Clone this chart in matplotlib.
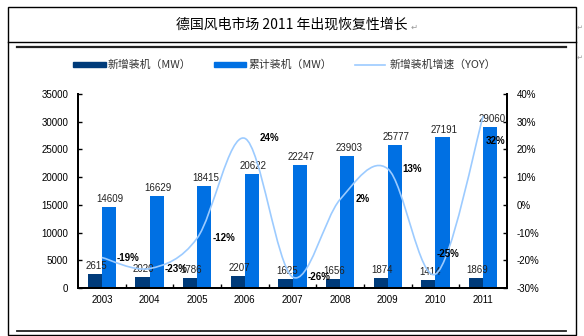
import matplotlib.pyplot as plt
from matplotlib.path import Path
from matplotlib.patches import PathPatch, Rectangle
from matplotlib.lines import Line2D

plt.rcParams['font.family'] = ['Liberation Sans', 'Noto Sans CJK SC', 'DejaVu Sans']

# data
years = ['2003', '2004', '2005', '2006', '2007', '2008', '2009', '2010', '2011']
new_mw = [2615, 2020, 1786, 2207, 1625, 1656, 1874, 1414, 1869]
total_mw = [14609, 16629, 18415, 20622, 22247, 23903, 25777, 27191, 29060]
yoy_pct = [-19, -23, -12, 24, -26, 2, 13, -25, 32]

left_ticks = [0, 5000, 10000, 15000, 20000, 25000, 30000, 35000]
right_ticks = [-30, -20, -10, 0, 10, 20, 30, 40]

title = '德国风电市场 2011 年出现恢复性增长'
legend_labels = ['新增装机（MW）', '累计装机（MW）', '新增装机增速（YOY）']

# label placement (pixels from the point)
pct_offsets = [(15, 0)] * 7 + [(1, 20), (3, -25)]

dark = '#003B7A'
light = '#0070E3'
line_col = '#9CCBFF'
W, H = 584, 336


def fx(px):
    return px / W


def fy(py):
    return 1 - py / H


fig = plt.figure(figsize=(5.84, 3.36), dpi=100)

# word table frame
fig.patches.append(Rectangle((fx(8), fy(335)), fx(568), 328 / H, transform=fig.transFigure,
                             fill=False, edgecolor='black', linewidth=1.0))
fig.lines.append(Line2D([fx(8), fx(576)], [fy(42), fy(42)], transform=fig.transFigure,
                        color='black', linewidth=1.0))
fig.lines.append(Line2D([fx(17), fx(566)], [fy(47), fy(47)], transform=fig.transFigure,
                        color='#222222', linewidth=1.6))
fig.lines.append(Line2D([fx(17), fx(566)], [fy(331), fy(331)], transform=fig.transFigure,
                        color='#222222', linewidth=1.3))
fig.text(fx(292), fy(25), title, ha='center', va='center', fontsize=10,
         family=['Noto Sans CJK SC', 'DejaVu Sans'])
fig.text(fx(411), fy(27), '↵', ha='left', va='center', fontsize=6, color='#999999',
         family='DejaVu Sans')
for py in (28, 58):
    fig.text(fx(577), fy(py), '↵', ha='left', va='center', fontsize=5, color='#999999',
             family='DejaVu Sans')

# axes
ax = fig.add_axes([fx(78), fy(288), fx(429), 194 / H])
ax2 = ax.twinx()

x = list(range(len(years)))
bw = 0.3
ax.bar([i - bw / 2 for i in x], new_mw, width=bw, color=dark, zorder=2)
ax.bar([i + bw / 2 for i in x], total_mw, width=bw, color=light, zorder=2)

for i in x:
    ax.annotate(str(new_mw[i]), (i - bw / 2, new_mw[i]), xytext=(1, 2), textcoords='offset points',
                ha='center', va='bottom', fontsize=7, color='#222222', zorder=5)
    ax.annotate(str(total_mw[i]), (i + bw / 2, total_mw[i]), xytext=(1, 2), textcoords='offset points',
                ha='center', va='bottom', fontsize=7, color='#222222', zorder=5)

ax.set_xlim(-0.5, len(years) - 0.5)
ax.set_ylim(0, 35000)
ax.set_yticks(left_ticks)
ax.set_xticks(x)
ax.set_xticklabels(years)
ax.set_xticks([i + 0.5 for i in x[:-1]], minor=True)
ax.tick_params(axis='x', which='major', length=0, pad=5, labelsize=7)
ax.tick_params(axis='x', which='minor', direction='in', length=3, width=1)
ax.tick_params(axis='y', direction='in', length=3, width=1, pad=7, labelsize=7)

ax2.set_ylim(-30, 40)
ax2.set_yticks(right_ticks)
ax2.set_yticklabels([f'{t}%' for t in right_ticks])
ax2.tick_params(axis='y', direction='in', length=3, width=1, pad=7, labelsize=7)

for a in (ax, ax2):
    a.spines['top'].set_visible(False)
    for s in ('left', 'right', 'bottom'):
        a.spines[s].set_linewidth(1.4)

# smoothed growth line (bezier through the points, like excel's smooth line)
pts = list(zip(x, yoy_pct))
verts = [pts[0]]
codes = [Path.MOVETO]
n = len(pts)
for i in range(n - 1):
    p0 = pts[max(i - 1, 0)]
    p1 = pts[i]
    p2 = pts[i + 1]
    p3 = pts[min(i + 2, n - 1)]
    c1 = (p1[0] + (p2[0] - p0[0]) / 6, p1[1] + (p2[1] - p0[1]) / 6)
    c2 = (p2[0] - (p3[0] - p1[0]) / 6, p2[1] - (p3[1] - p1[1]) / 6)
    verts += [c1, c2, p2]
    codes += [Path.CURVE4] * 3
ax2.add_patch(PathPatch(Path(verts, codes), facecolor='none', edgecolor=line_col,
                        linewidth=1.2, zorder=3))

for i in x:
    ax2.annotate(f'{yoy_pct[i]}%', (i, yoy_pct[i]), xytext=pct_offsets[i], textcoords='offset pixels',
                 ha='left', va='center', fontsize=7, fontweight='bold', color='black', zorder=6)

# legend drawn by hand to match the spacing
fig.patches.append(Rectangle((fx(73), fy(66.5)), fx(33), 4.5 / H, transform=fig.transFigure,
                             color=dark))
fig.text(fx(108), fy(64.5), legend_labels[0], ha='left', va='center', fontsize=7.8, color='#333333',
         family=['Noto Sans CJK SC', 'DejaVu Sans'])
fig.patches.append(Rectangle((fx(214), fy(66.5)), fx(32), 4.5 / H, transform=fig.transFigure,
                             color=light))
fig.text(fx(248), fy(64.5), legend_labels[1], ha='left', va='center', fontsize=7.8, color='#333333',
         family=['Noto Sans CJK SC', 'DejaVu Sans'])
fig.lines.append(Line2D([fx(355), fx(385)], [fy(64.5), fy(64.5)], transform=fig.transFigure,
                        color=line_col, linewidth=1.2))
fig.text(fx(390), fy(64.5), legend_labels[2], ha='left', va='center', fontsize=7.8, color='#333333',
         family=['Noto Sans CJK SC', 'DejaVu Sans'])

fig.savefig('out.png', dpi=100)
